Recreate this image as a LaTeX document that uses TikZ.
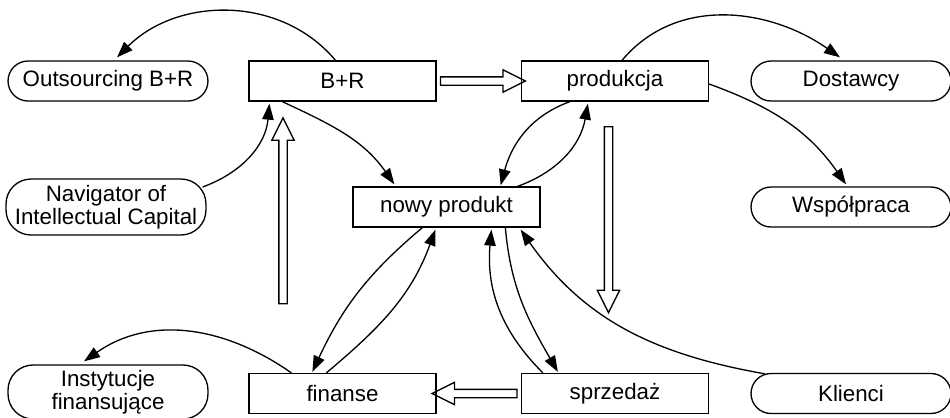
\documentclass[tikz,border=0pt]{standalone}
\usepackage{fontspec}
\setmainfont{Liberation Sans}
\usetikzlibrary{calc,arrows.meta,shapes.arrows}

\begin{document}
\begin{tikzpicture}[x=0.02cm, y=-0.02cm, line width=0.75pt,
    txt/.style={font=\fontsize{12.7}{11.8}\selectfont, align=center, inner sep=0pt},
    box/.style={txt, draw, minimum width=3.74cm, minimum height=0.8cm},
    rbox/.style={txt, draw, rounded corners=0.4cm, minimum width=4cm, minimum height=0.8cm},
    link/.style={-{Triangle[length=0.32cm,width=0.23cm]}},
    bigarrow/.style={draw, single arrow, inner sep=0.07cm, single arrow head extend=0.14cm,
        single arrow tip angle=53}]
    \useasboundingbox (0,0) rectangle (950,417);
    % nodes
    \node[rbox] (outs) at (108,81) {Outsourcing B+R};
    \node[box] (br) at (342.5,81) {B+R};
    \node[box] (prod) at (615,81) {produkcja};
    \node[rbox] (dost) at (851,81) {Dostawcy};
    \node[rbox, minimum height=1.12cm, rounded corners=0.5cm] (nav) at (106,207) {Navigator of\\Intellectual Capital};
    \node[box] (nowy) at (446.5,207) {nowy produkt};
    \node[rbox] (wsp) at (851,207) {Współpraca};
    \node[rbox, minimum height=1.08cm, rounded corners=0.5cm] (inst) at (108,392) {Instytucje\\finansujące};
    \node[box] (fin) at (342.5,393.5) {finanse};
    \node[box] (sprz) at (615,393.5) {sprzedaż};
    \node[rbox] (kli) at (851,393.5) {Klienci};
    % hollow arrows
    \node[bigarrow, minimum height=1.7cm] (brprod) at ($(br.east)!0.5!(prod.west)$) {};
    \node[bigarrow, minimum height=1.7cm, rotate=180] (sprzfin) at ($(sprz.west)!0.5!(fin.east)$) {};
    \node[bigarrow, minimum height=3.72cm, rotate=90] (up) at (283,215) {};
    \node[bigarrow, minimum height=3.72cm, rotate=270] (down) at (608.5,215.5) {};
    % curved links
    \draw[link] ($(br.north)+(-7,0)$) to[out=130,in=45] ($(outs.north)+(9,-3)$);
    \draw[link] ($(nav.east)+(-4,-20)$) to[out=20,in=-95] ($(br.south west)+(21,2)$);
    \draw[link] ($(br.south west)+(34,0)$) to[out=-25,in=125] ($(nowy.north west)+(42,-2)$);
    \draw[link] ($(prod.north)+(7,0)$) to[out=50,in=145] ($(dost.north)+(-11,-3)$);
    \draw[link] ($(prod.east)+(0,3)$) to[out=-20,in=125] ($(wsp.north)+(-5,-2)$);
    \draw[link] ($(prod.south west)+(49,0)$) to[out=200,in=75] ($(nowy.north east)+(-40,-1)$);
    \draw[link] ($(nowy.north east)+(-23,0)$) to[out=20,in=-100] ($(prod.south west)+(67,2)$);
    \draw[link] ($(nowy.south west)+(70,0)$) to[out=220,in=65] ($(fin.north west)+(64,-1)$);
    \draw[link] ($(fin.north west)+(78,0)$) to[out=40,in=-110] ($(nowy.south west)+(83,2)$);
    \draw[link] ($(sprz.north west)+(22,0)$) to[out=135,in=-95] ($(nowy.south west)+(139,2)$);
    \draw[link] ($(nowy.south west)+(153,0)$) to[out=-85,in=120] ($(sprz.north west)+(37,-1)$);
    \draw[link] ($(kli.north)+(-86,1)$) to[out=170,in=-55] ($(nowy.south east)+(-20,2)$);
    \draw[link] ($(fin.north west)+(43,0)$) to[out=145,in=35] ($(inst.north)+(-24,-3)$);
\end{tikzpicture}
\end{document}
